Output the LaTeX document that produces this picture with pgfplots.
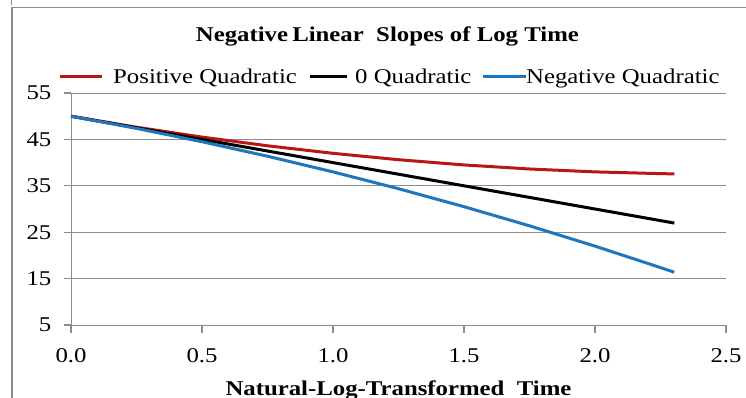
\documentclass[border=0pt]{standalone}
\usepackage{fontspec}
\setmainfont{Liberation Serif}[FakeStretch=1.18]
\usepackage{pgfplots}
\pgfplotsset{compat=1.18}
\definecolor{cred}{RGB}{185,22,22}
\definecolor{cblue}{RGB}{32,118,188}
\definecolor{cgrid}{RGB}{140,140,140}
\begin{document}
\begin{tikzpicture}
\useasboundingbox (0,0) rectangle (746bp,-398bp);
\fill[white] (0,0) rectangle (746bp,-398bp);
\draw[cgrid,line width=1.2bp] (12bp,-398bp) -- (12bp,-7.5bp) -- (746bp,-7.5bp);
\draw[cgrid,line width=1bp] (11bp,0bp) -- (11bp,-5bp);
\begin{axis}[
  at={(71bp,-325bp)}, anchor=south west,
  scale only axis, width=655bp, height=232bp,
  xmin=0, xmax=2.5, ymin=5, ymax=55,
  xtick={0,0.5,1,1.5,2,2.5},
  ytick={5,15,25,35,45,55},
  axis x line*=bottom, axis y line*=left,
  axis line style={cgrid, line width=1bp},
  tick align=outside,
  major tick length=7.5bp,
  xtick style={draw=cgrid, line width=1.3bp},
  ytick style={draw=cgrid, line width=1.3bp},
  ymajorgrids,
  grid style={cgrid, line width=1bp},
  /pgf/number format/assume math mode=true,
  xticklabel={\pgfmathprintnumber[fixed,fixed zerofill,precision=1]{\tick}},
  ticklabel style={font=\fontsize{21bp}{24bp}\selectfont, inner sep=0pt},
  xticklabel style={yshift=-16bp},
  yticklabel style={xshift=-12bp},
  title={\textbf{Negative\hspace{0.2em}Linear\ \ Slopes of Log Time}},
  title style={at={(axis description cs:0.483,1.198)}, anchor=base, inner sep=0pt, font=\fontsize{21bp}{24bp}\selectfont},
  xlabel={\textbf{Natural-Log-Transformed\ \ Time}},
  xlabel style={at={(axis description cs:0.5,-0.306)}, anchor=base, inner sep=0pt, font=\fontsize{21bp}{24bp}\selectfont},
  clip=false,
]
\addplot[cred, line width=3bp] coordinates {
(0,50) (0.25,47.625) (0.5,45.5) (0.75,43.625) (1,42) (1.25,40.625) (1.5,39.5) (1.75,38.625) (2,38) (2.25,37.625) (2.3026,37.57)
};
\addplot[black, line width=3bp] coordinates {
(0,50) (0.25,47.5) (0.5,45) (0.75,42.5) (1,40) (1.25,37.5) (1.5,35) (1.75,32.5) (2,30) (2.25,27.5) (2.3026,26.97)
};
\addplot[cblue, line width=3bp] coordinates {
(0,50) (0.25,47.375) (0.5,44.5) (0.75,41.375) (1,38) (1.25,34.375) (1.5,30.5) (1.75,26.375) (2,22) (2.25,17.375) (2.3026,16.37)
};
\end{axis}
\begin{scope}[every node/.style={font=\fontsize{21bp}{24bp}\selectfont, inner sep=0pt, anchor=base west}]
\draw[cred, line width=3bp] (60bp,-76bp) -- (102bp,-76bp);
\node at (113bp,-83bp) {Positive Quadratic};
\draw[black, line width=3bp] (310bp,-76bp) -- (347bp,-76bp);
\node at (355bp,-83bp) {0 Quadratic};
\draw[cblue, line width=3bp] (483bp,-76bp) -- (526bp,-76bp);
\node at (526bp,-83bp) {Negative Quadratic};
\end{scope}
\end{tikzpicture}
\end{document}
